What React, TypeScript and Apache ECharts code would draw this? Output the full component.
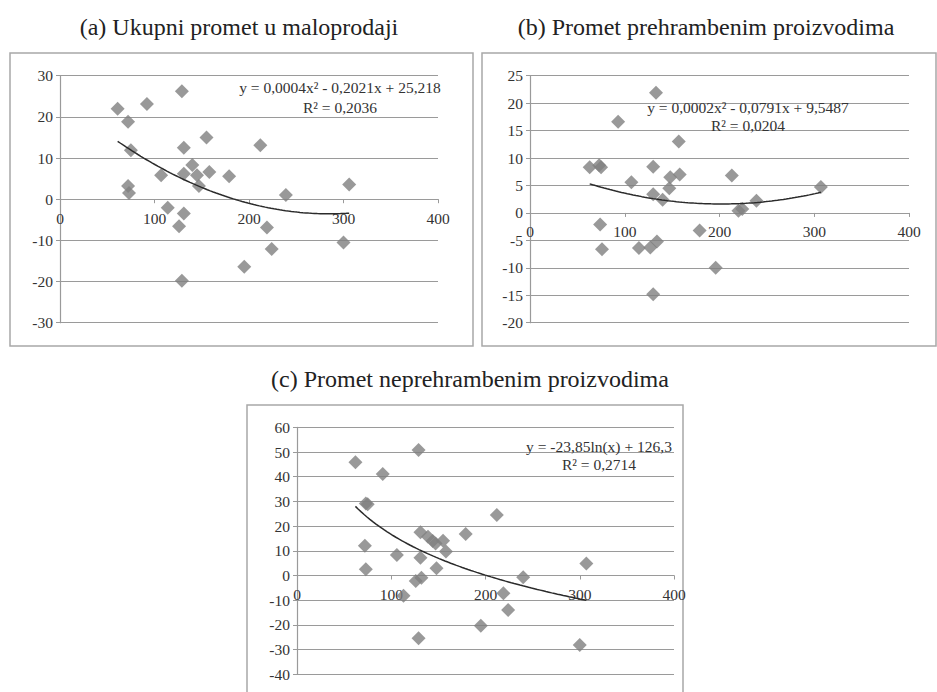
import React, { useEffect, useRef } from "react";
import * as echarts from "echarts";

// ---- data ----
const xTicks = ["0", "100", "200", "300", "400"];

const aX = [61, 72, 92, 129, 75, 72, 73, 107, 114, 131, 131, 140, 145, 147, 155, 158, 179, 212, 239, 306, 131, 126, 129, 195, 219, 224, 300];
const aY = [22.0, 18.8, 23.1, 26.2, 11.9, 3.2, 1.5, 5.8, -2.1, 12.5, 6.2, 8.3, 5.8, 3.2, 15.0, 6.6, 5.6, 13.1, 1.0, 3.6, -3.5, -6.6, -19.8, -16.4, -6.9, -12.1, -10.5];

const bX = [63, 73, 75, 93, 133, 130, 157, 107, 130, 140, 147, 148, 158, 213, 220, 224, 239, 307, 74, 76, 115, 127, 134, 179, 196, 130];
const bY = [8.3, 8.7, 8.3, 16.6, 21.9, 8.4, 13.0, 5.6, 3.4, 2.4, 4.5, 6.5, 7.0, 6.8, 0.4, 0.7, 2.2, 4.7, -2.1, -6.6, -6.4, -6.3, -5.2, -3.2, -10.0, -14.8];

const cX = [62, 91, 129, 73, 75, 72, 73, 106, 113, 126, 131, 131, 132, 139, 144, 147, 148, 155, 158, 179, 212, 240, 307, 219, 224, 195, 129, 300];
const cY = [45.8, 41.1, 50.8, 29.2, 28.8, 12.0, 2.5, 8.3, -8.2, -2.2, 17.5, 7.2, -0.9, 15.7, 14.0, 13.0, 2.9, 14.1, 9.7, 16.8, 24.5, -0.7, 4.9, -7.2, -14.0, -20.3, -25.4, -28.1];

const titles = [
  "(a) Ukupni promet u maloprodaji",
  "(b) Promet prehrambenim proizvodima",
  "(c) Promet neprehrambenim proizvodima",
];
const equations = [
  ["y = 0,0004x² - 0,2021x + 25,218", "R² = 0,2036"],
  ["y = 0,0002x² - 0,0791x + 9,5487", "R² = 0,0204"],
  ["y = -23,85ln(x) + 126,3", "R² = 0,2714"],
];
const yRanges = [
  { min: -30, max: 30, interval: 10 },
  { min: -20, max: 25, interval: 5 },
  { min: -40, max: 60, interval: 10 },
];

// ---- regression helpers (trend lines fitted to the data) ----
function solve3(m: number[][], v: number[]): number[] {
  const a = m.map((r, i) => [...r, v[i]]);
  for (let i = 0; i < 3; i++) {
    let p = i;
    for (let k = i + 1; k < 3; k++) if (Math.abs(a[k][i]) > Math.abs(a[p][i])) p = k;
    [a[i], a[p]] = [a[p], a[i]];
    for (let k = 0; k < 3; k++) {
      if (k === i) continue;
      const f = a[k][i] / a[i][i];
      for (let j = i; j < 4; j++) a[k][j] -= f * a[i][j];
    }
  }
  return [a[0][3] / a[0][0], a[1][3] / a[1][1], a[2][3] / a[2][2]];
}
function quadFit(xs: number[], ys: number[]) {
  let s0 = 0, s1 = 0, s2 = 0, s3 = 0, s4 = 0, t0 = 0, t1 = 0, t2 = 0;
  xs.forEach((x, i) => {
    const y = ys[i];
    s0 += 1; s1 += x; s2 += x * x; s3 += x ** 3; s4 += x ** 4;
    t0 += y; t1 += x * y; t2 += x * x * y;
  });
  const [c, b, a] = solve3([[s0, s1, s2], [s1, s2, s3], [s2, s3, s4]], [t0, t1, t2]);
  return (x: number) => a * x * x + b * x + c;
}
function logFit(xs: number[], ys: number[]) {
  const n = xs.length;
  const lx = xs.map(Math.log);
  const mx = lx.reduce((s, v) => s + v, 0) / n;
  const my = ys.reduce((s, v) => s + v, 0) / n;
  let num = 0, den = 0;
  lx.forEach((v, i) => { num += (v - mx) * (ys[i] - my); den += (v - mx) ** 2; });
  const b = num / den;
  const a = my - b * mx;
  return (x: number) => a + b * Math.log(x);
}
function sampleCurve(f: (x: number) => number, xs: number[]) {
  const lo = Math.min(...xs), hi = Math.max(...xs);
  const pts: number[][] = [];
  const n = 80;
  for (let i = 0; i <= n; i++) {
    const x = lo + ((hi - lo) * i) / n;
    pts.push([x, f(x)]);
  }
  return pts;
}

const FONT = "Liberation Serif";
const GRID_COLOR = "#9a9a9a";
const TEXT_COLOR = "#333333";
const MARK_COLOR = "#7f7f7f";

export default function App() {
  const ref = useRef<HTMLDivElement>(null);
  useEffect(() => {
    if (!ref.current) return;
    const chart = echarts.init(ref.current, undefined, { renderer: "svg" });
    const panels = [
      { xs: aX, ys: aY, fit: quadFit(aX, aY) },
      { xs: bX, ys: bY, fit: quadFit(bX, bY) },
      { xs: cX, ys: cY, fit: logFit(cX, cY) },
    ];
    const grids = [
      { left: 60, top: 75.7, width: 378, height: 247 },
      { left: 530, top: 75.7, width: 379, height: 247 },
      { left: 297, top: 427.3, width: 377, height: 247 },
    ];
    // offset of the x axis (moved up to the y = 0 line)
    const zeroOffsets = grids.map((g, i) => {
      const r = yRanges[i];
      return -(g.height * (0 - r.min)) / (r.max - r.min);
    });
    const boxes = [
      { x: 10, y: 53, width: 463, height: 293 },
      { x: 482, y: 53, width: 454, height: 293 },
      { x: 247, y: 405, width: 436, height: 300 },
    ];
    const titlePos = [
      [239, 27],
      [706, 27],
      [470, 379],
    ];
    const eqPos = [
      [340, 87, 107],
      [748, 107, 125],
      [599, 446, 464],
    ];
    const graphic: any[] = [];
    boxes.forEach((b) =>
      graphic.push({
        type: "rect",
        shape: b,
        style: { fill: "none", stroke: "#a8a8a8", lineWidth: 1.5 },
        silent: true,
        z: 0,
      })
    );
    titles.forEach((t, i) =>
      graphic.push({
        type: "text",
        x: titlePos[i][0],
        y: titlePos[i][1],
        style: {
          text: t,
          fontFamily: FONT,
          fontSize: 24,
          fill: "#222222",
          align: "center",
          verticalAlign: "middle",
        },
      })
    );
    equations.forEach((eq, i) => {
      eq.forEach((line, j) =>
        graphic.push({
          type: "text",
          x: eqPos[i][0],
          y: eqPos[i][1 + j],
          z: 10,
          style: {
            text: line,
            fontFamily: FONT,
            fontSize: 15.5,
            fill: TEXT_COLOR,
            align: "center",
            verticalAlign: "middle",
          },
        })
      );
    });

    const option: any = {
      animation: false,
      textStyle: { fontFamily: FONT },
      grid: grids,
      xAxis: grids.map((_, i) => ({
        gridIndex: i,
        type: "value",
        position: "bottom",
        offset: zeroOffsets[i],
        min: 0,
        max: 400,
        interval: 100,
        axisLine: { onZero: false, lineStyle: { color: GRID_COLOR, width: 1.2 } },
        axisTick: { show: true, length: 4, lineStyle: { color: GRID_COLOR } },
        splitLine: { show: false },
        axisLabel: {
          fontFamily: FONT,
          fontSize: 15.5,
          color: TEXT_COLOR,
          margin: 11,
          hideOverlap: false,
          formatter: (v: number) => xTicks[Math.round(v / 100)] ?? String(v),
        },
      })),
      yAxis: grids.map((_, i) => ({
        gridIndex: i,
        type: "value",
        min: yRanges[i].min,
        max: yRanges[i].max,
        interval: yRanges[i].interval,
        axisLine: { show: true, onZero: false, lineStyle: { color: GRID_COLOR, width: 1.2 } },
        axisTick: { show: true, length: 4, lineStyle: { color: GRID_COLOR } },
        splitLine: { show: true, lineStyle: { color: GRID_COLOR, width: 1.2 } },
        axisLabel: { fontFamily: FONT, fontSize: 15.5, color: TEXT_COLOR, margin: 7 },
      })),
      series: panels.flatMap((p, i) => [
        {
          type: "scatter",
          xAxisIndex: i,
          yAxisIndex: i,
          symbol: "diamond",
          symbolSize: 14,
          itemStyle: { color: MARK_COLOR },
          data: p.xs.map((x, k) => [x, p.ys[k]]),
          z: 3,
        },
        {
          type: "line",
          xAxisIndex: i,
          yAxisIndex: i,
          showSymbol: false,
          symbol: "none",
          lineStyle: { color: "#2b2b2b", width: 1.5 },
          data: sampleCurve(p.fit, p.xs),
          z: 4,
        },
      ]),
      graphic,
    };
    chart.setOption(option);
    return () => chart.dispose();
  }, []);
  return (
    <div
      ref={ref}
      style={{ position: "fixed", left: 0, top: 0, width: 937, height: 692, background: "#ffffff" }}
    />
  );
}
